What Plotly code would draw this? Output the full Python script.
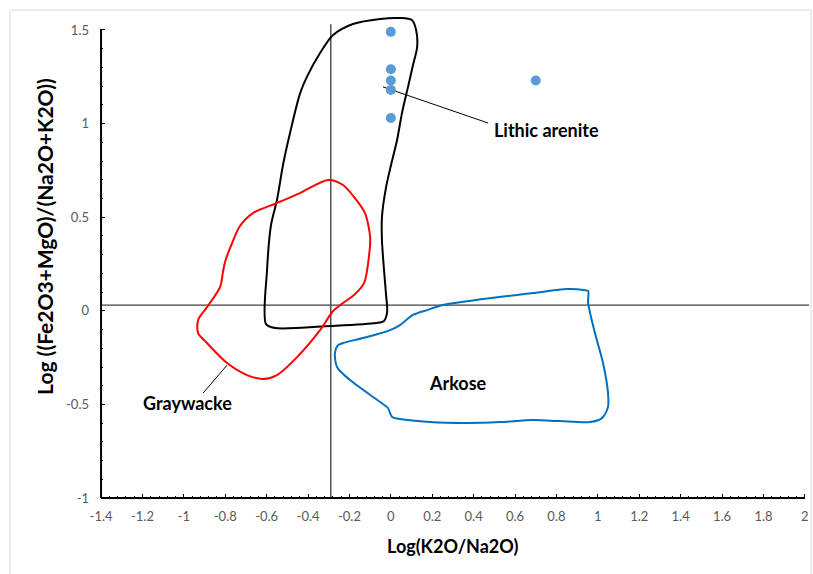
import plotly.graph_objects as go

# ---------------- data ----------------
sample_x = [0.0, 0.0, 0.0, 0.0, 0.0, 0.7]
sample_y = [1.49, 1.29, 1.23, 1.18, 1.03, 1.23]

lithic_x = [-0.603, -0.598, -0.579, -0.550, -0.521, -0.487, -0.439, -0.405, -0.342, -0.279,
            -0.183, -0.052, 0.044, 0.102, 0.122, 0.127, 0.107, 0.083, 0.054, 0.030,
            0.001, -0.023, -0.043, -0.043, -0.033, -0.023, -0.018, -0.033, -0.071, -0.294,
            -0.559, -0.603]
lithic_y = [-0.071, 0.218, 0.458, 0.592, 0.779, 0.950, 1.160, 1.251, 1.377, 1.473,
            1.532, 1.559, 1.564, 1.553, 1.500, 1.409, 1.313, 1.196, 1.057, 0.912,
            0.779, 0.661, 0.501, 0.378, 0.218, 0.084, -0.006, -0.054, -0.065, -0.081,
            -0.092, -0.071]

graywacke_x = [-0.303, -0.231, -0.178, -0.125, -0.100, -0.105, -0.129, -0.178, -0.245, -0.279,
               -0.342, -0.453, -0.550, -0.617, -0.695, -0.791, -0.888, -0.931, -0.931, -0.888,
               -0.825, -0.811, -0.801, -0.767, -0.729, -0.666, -0.550, -0.439, -0.303]
graywacke_y = [0.699, 0.672, 0.608, 0.522, 0.394, 0.298, 0.149, 0.084, 0.031, -0.001,
               -0.103, -0.247, -0.343, -0.364, -0.343, -0.279, -0.172, -0.119, -0.049, 0.020,
               0.127, 0.207, 0.261, 0.362, 0.453, 0.522, 0.576, 0.629, 0.699]

arkose_x = [-0.231, -0.115, -0.004, 0.044, 0.107, 0.175, 0.252, 0.445, 0.687, 0.851,
            0.933, 0.953, 0.953, 0.986, 1.025, 1.049, 1.049, 1.020, 0.962, 0.817,
            0.687, 0.528, 0.368, 0.189, 0.044, 0.006, -0.014, -0.052, -0.197, -0.260,
            -0.270, -0.255, -0.231]
arkose_y = [-0.172, -0.140, -0.103, -0.076, -0.022, 0.004, 0.031, 0.063, 0.095, 0.116,
            0.111, 0.106, 0.042, -0.119, -0.279, -0.439, -0.514, -0.573, -0.594, -0.589,
            -0.583, -0.594, -0.599, -0.594, -0.578, -0.567, -0.519, -0.487, -0.370, -0.300,
            -0.225, -0.183, -0.172]

vline_x = [-0.29, -0.29]
vline_y = [-1.0, 1.53]
hline_x = [-1.4, 2.02]
hline_y = [0.03, 0.03]

lithic_leader_x = [-0.038, 0.470]
lithic_leader_y = [1.196, 1.003]
gray_leader_x = [-0.791, -0.907]
gray_leader_y = [-0.290, -0.439]

x_ticks = [round(-1.4 + 0.2 * i, 1) for i in range(18)]
x_ticktext = ["-1.4", "-1.2", "-1", "-0.8", "-0.6", "-0.4", "-0.2", "0", "0.2", "0.4",
              "0.6", "0.8", "1", "1.2", "1.4", "1.6", "1.8", "2"]
y_ticks = [-1, -0.5, 0, 0.5, 1, 1.5]
y_ticktext = ["-1", "-0.5", "0", "0.5", "1", "1.5"]
x_minor = [round(-1.4 + 0.04 * i, 2) for i in range(86)]
y_minor = [round(-1 + 0.1 * i, 1) for i in range(26)]

# ---------------- figure ----------------
fig = go.Figure()

fig.add_trace(go.Scatter(x=vline_x, y=vline_y, mode="lines",
                         line=dict(color="#262626", width=1.2), hoverinfo="skip"))
fig.add_trace(go.Scatter(x=hline_x, y=hline_y, mode="lines",
                         line=dict(color="#404040", width=1.2), hoverinfo="skip"))

fig.add_trace(go.Scatter(x=lithic_x, y=lithic_y, mode="lines",
                         line=dict(color="#000000", width=2, shape="spline", smoothing=0.8),
                         name="Lithic arenite"))
fig.add_trace(go.Scatter(x=graywacke_x, y=graywacke_y, mode="lines",
                         line=dict(color="#FF0000", width=2, shape="spline", smoothing=0.8),
                         name="Graywacke"))
fig.add_trace(go.Scatter(x=arkose_x, y=arkose_y, mode="lines",
                         line=dict(color="#0070C0", width=2, shape="spline", smoothing=0.8),
                         name="Arkose"))

fig.add_trace(go.Scatter(x=lithic_leader_x, y=lithic_leader_y, mode="lines",
                         line=dict(color="#000000", width=1), hoverinfo="skip"))
fig.add_trace(go.Scatter(x=gray_leader_x, y=gray_leader_y, mode="lines",
                         line=dict(color="#000000", width=1), hoverinfo="skip"))

fig.add_trace(go.Scatter(x=sample_x, y=sample_y, mode="markers",
                         marker=dict(color="#5B9BD5", size=10), cliponaxis=False,
                         name="Samples"))

# axis lines drawn in data coordinates
fig.add_shape(type="line", xref="x", yref="y", x0=-1.4, x1=2.0, y0=-1, y1=-1,
              line=dict(color="#000000", width=2), layer="above")
fig.add_shape(type="line", xref="x", yref="y", x0=-1.4, x1=-1.4, y0=-1, y1=1.5,
              line=dict(color="#000000", width=2), layer="above")

# chart border
fig.add_shape(type="rect", xref="paper", yref="paper", x0=-0.127, x1=1.003,
              y0=-0.2, y1=1.0103, line=dict(color="#D9D9D9", width=1), layer="below")

tick_font = dict(family="Lato, 'Open Sans', sans-serif", size=13, color="#595959")
lab_font = dict(family="Lato, 'Open Sans', sans-serif", size=18, color="#000000")

fig.update_xaxes(range=[-1.405, 2.02], showline=False, showgrid=False, zeroline=False,
                 tickmode="array", tickvals=x_ticks, ticktext=x_ticktext,
                 ticks="inside", ticklen=5, tickwidth=1.3, tickcolor="#000000",
                 tickfont=tick_font, ticklabelstandoff=8,
                 minor=dict(tickmode="array", tickvals=x_minor, ticks="inside",
                            ticklen=3, tickwidth=1.2, tickcolor="#000000", showgrid=False))
fig.update_yaxes(range=[-1.005, 1.58], showline=False, showgrid=False, zeroline=False,
                 tickmode="array", tickvals=y_ticks, ticktext=y_ticktext,
                 ticks="inside", ticklen=5, tickwidth=1.3, tickcolor="#000000",
                 tickfont=tick_font, ticklabelstandoff=10,
                 minor=dict(tickmode="array", tickvals=y_minor, ticks="inside",
                            ticklen=3, tickwidth=1.2, tickcolor="#000000", showgrid=False))

annotations = [
    dict(text="<b>Lithic arenite</b>", x=0.750, y=0.966, xref="x", yref="y",
         showarrow=False, font=lab_font),
    dict(text="<b>Graywacke</b>", x=-0.980, y=-0.493, xref="x", yref="y",
         showarrow=False, font=lab_font),
    dict(text="<b>Arkose</b>", x=0.325, y=-0.386, xref="x", yref="y",
         showarrow=False, font=lab_font),
    dict(text="<b>Log(K2O/Na2O)</b>", x=0.296, y=-0.0971, xref="x", yref="paper",
         showarrow=False, font=dict(lab_font, size=18), yanchor="middle"),
    dict(text="<b>Log ((Fe2O3+MgO)/(Na2O+K2O))</b>", x=-0.0776, y=0.40, xref="paper",
         yref="y", showarrow=False, font=dict(lab_font, size=21), textangle=-90,
         xanchor="center", yanchor="middle"),
]

fig.update_layout(
    width=813, height=574,
    margin=dict(l=100, r=4, t=15, b=75),
    paper_bgcolor="#FFFFFF", plot_bgcolor="#FFFFFF",
    showlegend=False,
    annotations=annotations,
    font=dict(family="Lato, 'Open Sans', sans-serif"),
)

fig.write_html("out.html")
